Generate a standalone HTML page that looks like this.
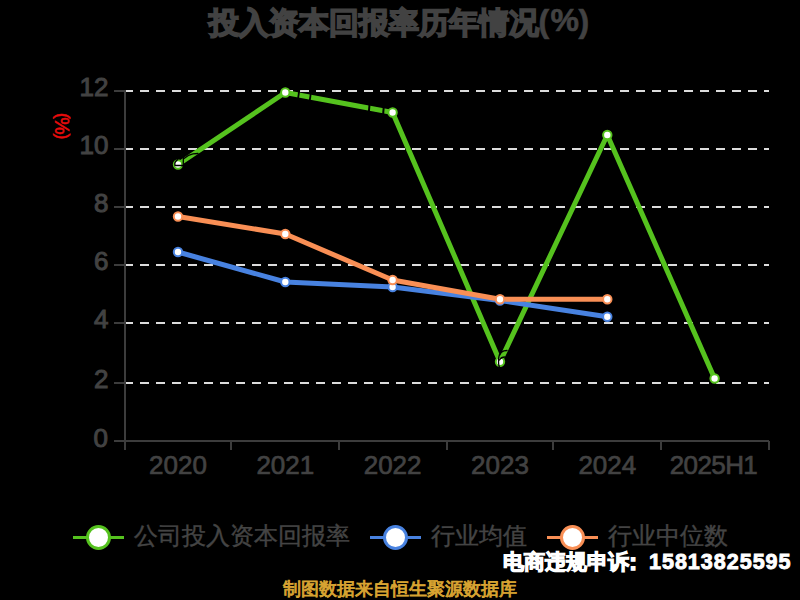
<!DOCTYPE html>
<html><head><meta charset="utf-8">
<style>
html,body{margin:0;padding:0;background:#000;width:800px;height:600px;overflow:hidden;}
svg{display:block;font-family:"Liberation Sans",sans-serif;}
</style></head>
<body>
<svg width="800" height="600" viewBox="0 0 800 600">
<rect x="0" y="0" width="800" height="600" fill="#000"/>
<!-- title -->
<g font-weight="bold" fill="#424242" stroke="#424242">
<text x="209" y="33" font-size="30" stroke-width="1.7">投入资本回报率历年情况</text>
<text x="538.5" y="32" font-size="32" stroke-width="0.6">(</text>
<text x="550.5" y="31" font-size="32" stroke-width="0.6">%</text>
<text x="578.5" y="32" font-size="32" stroke-width="0.6">)</text>
</g>
<!-- unit -->
<g fill="#e80c0c" stroke="#e80c0c" stroke-width="0.5">
<text transform="translate(63,116) rotate(90)" text-anchor="middle" dominant-baseline="central" font-size="17.5">(</text>
<text transform="translate(62,126) rotate(90)" text-anchor="middle" dominant-baseline="central" font-size="19.5">%</text>
<text transform="translate(63,136.5) rotate(90)" text-anchor="middle" dominant-baseline="central" font-size="17.5">)</text>
</g>
<!-- grid -->
<g stroke="#dcdcdc" stroke-width="2" stroke-dasharray="9 7">
<line x1="124" y1="91" x2="769" y2="91"/>
<line x1="124" y1="149" x2="769" y2="149"/>
<line x1="124" y1="207" x2="769" y2="207"/>
<line x1="124" y1="265" x2="769" y2="265"/>
<line x1="124" y1="323" x2="769" y2="323"/>
<line x1="124" y1="383" x2="769" y2="383"/>
</g>
<!-- axes -->
<g stroke="#3c3c3c" stroke-width="2">
<line x1="125" y1="90" x2="125" y2="450"/>
<line x1="114" y1="441" x2="769" y2="441"/>
<line x1="114" y1="91" x2="125" y2="91"/>
<line x1="114" y1="149" x2="125" y2="149"/>
<line x1="114" y1="207" x2="125" y2="207"/>
<line x1="114" y1="265" x2="125" y2="265"/>
<line x1="114" y1="323" x2="125" y2="323"/>
<line x1="114" y1="383" x2="125" y2="383"/>
<line x1="231" y1="441" x2="231" y2="450"/>
<line x1="339" y1="441" x2="339" y2="450"/>
<line x1="447" y1="441" x2="447" y2="450"/>
<line x1="553" y1="441" x2="553" y2="450"/>
<line x1="661" y1="441" x2="661" y2="450"/>
<line x1="769" y1="441" x2="769" y2="450"/>
</g>
<!-- y labels -->
<g font-size="26" fill="#424242" stroke="#424242" stroke-width="1" text-anchor="end">
<text x="108.5" y="96">12</text>
<text x="108.5" y="154">10</text>
<text x="108.5" y="212">8</text>
<text x="108.5" y="270">6</text>
<text x="108.5" y="328">4</text>
<text x="108.5" y="388">2</text>
<text x="108" y="447">0</text>
</g>
<!-- x labels -->
<g font-size="26" fill="#424242" stroke="#424242" stroke-width="0.7" text-anchor="middle">
<text x="178" y="474">2020</text>
<text x="285.3" y="474">2021</text>
<text x="392.6" y="474">2022</text>
<text x="500" y="474">2023</text>
<text x="607.3" y="474">2024</text>
<text x="713.5" y="474" letter-spacing="-0.6">2025H1</text>
</g>
<!-- series -->
<g fill="none" stroke-width="5" stroke-linejoin="round">
<polyline stroke="#55c21e" points="178,164.5 285.3,92.5 392.6,112.5 500,361.7 607.3,135 714.6,378.5"/>
<polyline stroke="#4882e0" points="178,252 285.3,282 392.6,287 500,300.5 607.3,316.7"/>
<polyline stroke="#f98f55" points="178,216.5 285.3,234 392.6,280 500,299.3 607.3,299.3"/>
</g>
<g fill="#fff" stroke-width="2">
<g stroke="#55c21e">
<circle cx="178" cy="164.5" r="4.2"/><circle cx="285.3" cy="92.5" r="4.2"/><circle cx="392.6" cy="112.5" r="4.2"/><circle cx="500" cy="361.7" r="4.2"/><circle cx="607.3" cy="135" r="4.2"/><circle cx="714.6" cy="378.5" r="4.2"/>
</g>
<g stroke="#4882e0">
<circle cx="178" cy="252" r="4.2"/><circle cx="285.3" cy="282" r="4.2"/><circle cx="392.6" cy="287" r="4.2"/><circle cx="500" cy="300.5" r="4.2"/><circle cx="607.3" cy="316.7" r="4.2"/>
</g>
<g stroke="#f98f55">
<circle cx="178" cy="216.5" r="4.2"/><circle cx="285.3" cy="234" r="4.2"/><circle cx="392.6" cy="280" r="4.2"/><circle cx="500" cy="299.3" r="4.2"/><circle cx="607.3" cy="299.3" r="4.2"/>
</g>
</g>
<!-- artifacts -->
<g fill="#000" stroke="none">
<rect x="297.6" y="90" width="1.8" height="11" transform="rotate(8 298.5 95.5)"/>
<rect x="309.3" y="92" width="1.8" height="11" transform="rotate(8 310.2 97.5)"/>
<rect x="368.2" y="102" width="2" height="12" transform="rotate(5 369.2 108)"/>
<rect x="382.4" y="105" width="2" height="12" transform="rotate(5 383.4 111)"/>
</g>
<g fill="none" stroke="#000" stroke-width="1.3" stroke-linecap="round">
<path d="M177.8,159.5 Q174,162 175,165.5 L182.5,165.5"/>
<path d="M183.4,157.5 L183.2,166.5"/>
<path d="M184,158.5 Q188.5,154.5 193,153.8 L198,153.5"/>
<path d="M507,350.5 Q500,350.5 498.8,357 Q498,364 499.5,367.5"/>
<path d="M499.5,360 Q501,357 505,357"/>
</g>
<!-- legend -->
<g stroke-width="3">
<line x1="73" y1="537.5" x2="124" y2="537.5" stroke="#55c21e"/>
<circle cx="98.5" cy="537.5" r="11" fill="#fff" stroke="#55c21e"/>
<line x1="370" y1="537.5" x2="421" y2="537.5" stroke="#4882e0"/>
<circle cx="395.5" cy="537.5" r="11" fill="#fff" stroke="#4882e0"/>
<line x1="547" y1="537.5" x2="598" y2="537.5" stroke="#f98f55"/>
<circle cx="572.5" cy="537.5" r="11" fill="#fff" stroke="#f98f55"/>
</g>
<g font-size="24" fill="#444" stroke="#444" stroke-width="0.4">
<text x="134" y="544">公司投入资本回报率</text>
<text x="431" y="544">行业均值</text>
<text x="608" y="544">行业中位数</text>
</g>
<!-- watermark -->
<text x="502.5" y="568.5" font-size="20.7" font-weight="bold" fill="#fff" stroke="#fff" stroke-width="1.1">电商违规申诉</text>
<text x="629.3" y="569.5" font-size="23" font-weight="bold" fill="#fff" stroke="#fff" stroke-width="1.5">:</text>
<text x="649" y="569" font-size="21.5" font-weight="bold" fill="#fff" stroke="#fff" stroke-width="0.9" letter-spacing="1.0">15813825595</text>
<text x="283" y="595" font-size="18" fill="#d8a432" stroke="#d8a432" stroke-width="0.9">制图数据来自恒生聚源数据库</text>
</svg>
</body></html>
